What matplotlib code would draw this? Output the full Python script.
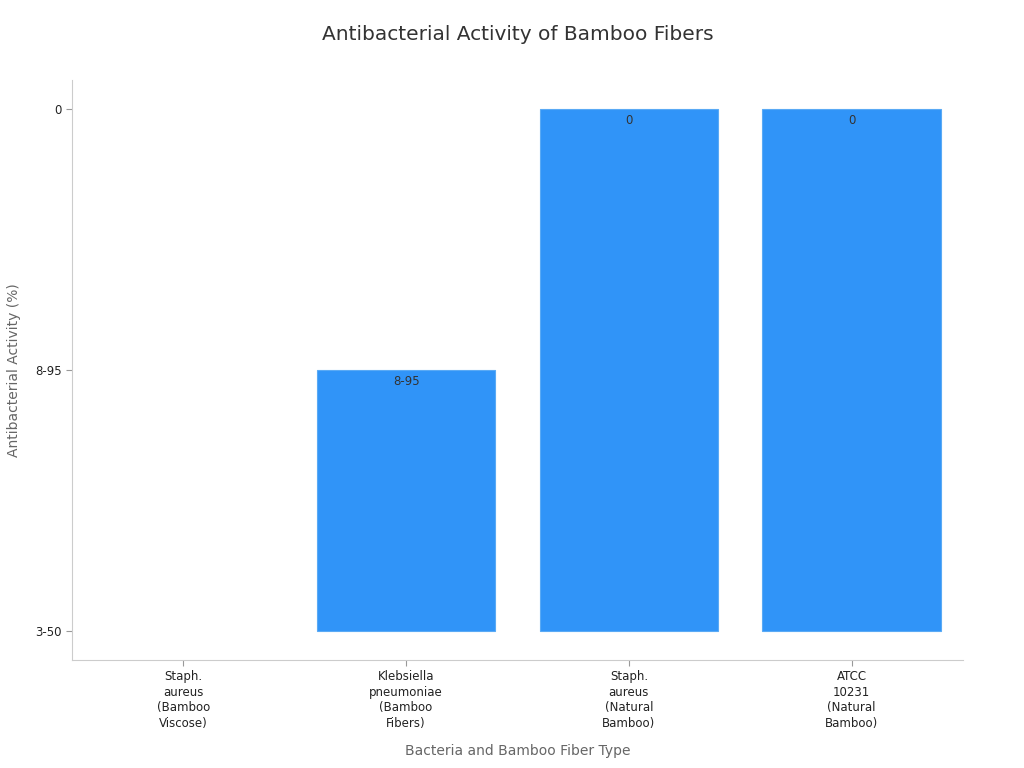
import matplotlib.pyplot as plt

# Data
categories = ["Staph.\naureus\n(Bamboo\nViscose)", "Klebsiella\npneumoniae\n(Bamboo\nFibers)",
              "Staph.\naureus\n(Natural\nBamboo)", "ATCC\n10231\n(Natural\nBamboo)"]
y_levels = ["3-50", "8-95", "0"]  # categorical y axis, bottom to top
values = ["3-50", "8-95", "0", "0"]

heights = [y_levels.index(v) for v in values]
x = list(range(len(categories)))

fig, ax = plt.subplots(figsize=(10.24, 7.68), dpi=100)
fig.subplots_adjust(left=0.0703, right=0.9404, top=0.8958, bottom=0.1406)

edge_widths = [0.8 if h > 0 else 0 for h in heights]
bars = ax.bar(x, heights, width=0.8, color="#3094f8", edgecolor="#5aaaf5", linewidth=edge_widths)

for xi, h, v in zip(x, heights, values):
    if h > 0:
        ax.text(xi, h - 0.02, v, ha="center", va="top", fontsize=8.5, color="#333333")

ax.set_xlim(-0.5, 3.5)
ax.set_ylim(-0.111, 2.111)
ax.set_yticks(range(len(y_levels)))
ax.set_yticklabels(y_levels)
ax.set_xticks(x)
ax.set_xticklabels(categories, fontsize=8.5, color="#222222", linespacing=1.25)
ax.tick_params(axis="y", labelsize=8.5, labelcolor="#222222", color="#999999", length=4)
ax.tick_params(axis="x", color="#999999", length=4)

for s in ["top", "right"]:
    ax.spines[s].set_visible(False)
for s in ["left", "bottom"]:
    ax.spines[s].set_color("#cccccc")

ax.set_title("Antibacterial Activity of Bamboo Fibers", fontsize=14.5, color="#333333", pad=29)
ax.set_xlabel("Bacteria and Bamboo Fiber Type", fontsize=10, color="#666666", labelpad=10)
ax.set_ylabel("Antibacterial Activity (%)", fontsize=10, color="#666666", labelpad=10)

plt.savefig("out.png")
